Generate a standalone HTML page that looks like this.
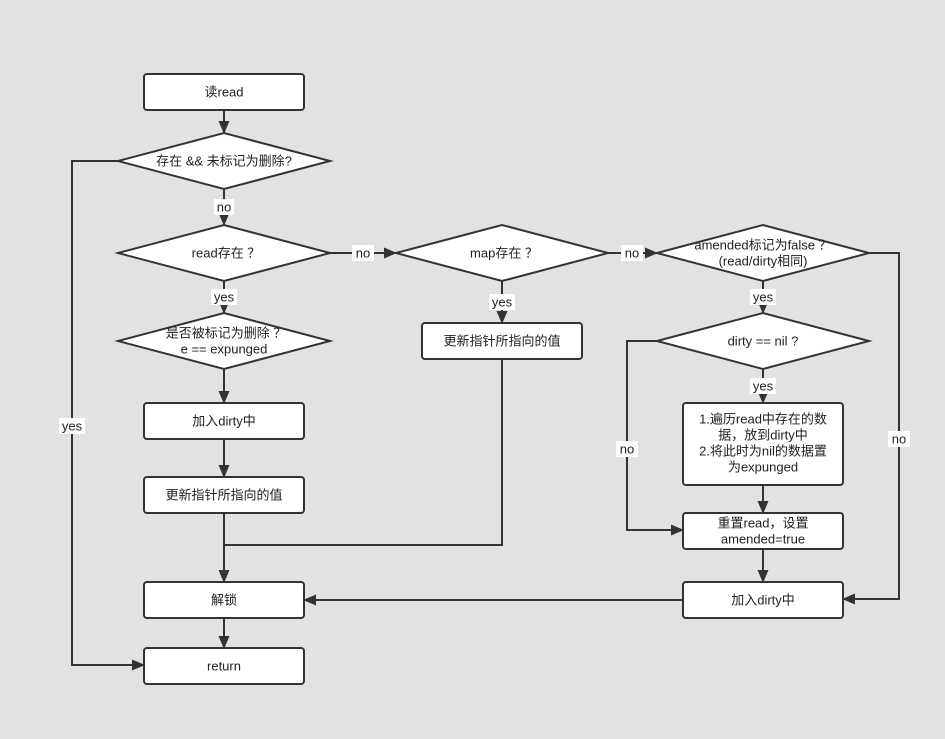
<!DOCTYPE html>
<html><head><meta charset="utf-8"><style>
html,body{margin:0;padding:0;background:#e2e2e2;}
svg{display:block;}
text{font-family:"Liberation Sans","Noto Sans CJK SC",sans-serif;font-size:13px;fill:#222;text-anchor:middle;dominant-baseline:central;}
</style></head><body>
<svg width="945" height="739" viewBox="0 0 945 739" xmlns="http://www.w3.org/2000/svg">
<defs><marker id="a" markerWidth="13" markerHeight="11" refX="12" refY="5.5" orient="auto" markerUnits="userSpaceOnUse"><path d="M0,0 L13,5.5 L0,11 z" fill="#333"/></marker></defs>
<rect width="945" height="739" fill="#e2e2e2"/>
<g stroke="#333" stroke-width="2" fill="none">
<path d="M224,110 V133" marker-end="url(#a)"/>
<path d="M224,189 V225" marker-end="url(#a)"/>
<path d="M224,281 V313" marker-end="url(#a)"/>
<path d="M224,369 V403" marker-end="url(#a)"/>
<path d="M224,439 V477" marker-end="url(#a)"/>
<path d="M224,513 V582" marker-end="url(#a)"/>
<path d="M224,618 V648" marker-end="url(#a)"/>
<path d="M118,161 H72 V665 H144" marker-end="url(#a)"/>
<path d="M330,253 H396" marker-end="url(#a)"/>
<path d="M608,253 H657" marker-end="url(#a)"/>
<path d="M502,281 V323" marker-end="url(#a)"/>
<path d="M502,359 V545 H224"/>
<path d="M869,253 H899 V599 H843" marker-end="url(#a)"/>
<path d="M763,281 V313" marker-end="url(#a)"/>
<path d="M763,369 V403" marker-end="url(#a)"/>
<path d="M763,485 V513" marker-end="url(#a)"/>
<path d="M763,549 V582" marker-end="url(#a)"/>
<path d="M657,341 H627 V530 H683" marker-end="url(#a)"/>
<path d="M683,600 H304" marker-end="url(#a)"/>
</g>
<g stroke="#333" stroke-width="2" fill="#fff">
<rect x="144" y="74" width="160" height="36" rx="3"/>
<polygon points="118,161 224,133 330,161 224,189"/>
<polygon points="118,253 224,225 330,253 224,281"/>
<polygon points="118,341 224,313 330,341 224,369"/>
<rect x="144" y="403" width="160" height="36" rx="3"/>
<rect x="144" y="477" width="160" height="36" rx="3"/>
<rect x="144" y="582" width="160" height="36" rx="3"/>
<rect x="144" y="648" width="160" height="36" rx="3"/>
<polygon points="396,253 502,225 608,253 502,281"/>
<rect x="422" y="323" width="160" height="36" rx="3"/>
<polygon points="657,253 763,225 869,253 763,281"/>
<polygon points="657,341 763,313 869,341 763,369"/>
<rect x="683" y="403" width="160" height="82" rx="3"/>
<rect x="683" y="513" width="160" height="36" rx="3"/>
<rect x="683" y="582" width="160" height="36" rx="3"/>
</g>
<g fill="#fff">
<rect x="214" y="199" width="20" height="16"/>
<rect x="211" y="289" width="26" height="16"/>
<rect x="352" y="245" width="22" height="16"/>
<rect x="621" y="245" width="22" height="16"/>
<rect x="489" y="294" width="26" height="16"/>
<rect x="750" y="289" width="26" height="16"/>
<rect x="750" y="378" width="26" height="16"/>
<rect x="59" y="418" width="26" height="16"/>
<rect x="616" y="441" width="22" height="16"/>
<rect x="888" y="431" width="22" height="16"/>
</g>
<text x="224" y="92">读read</text>
<text x="224" y="161">存在 &amp;&amp; 未标记为删除?</text>
<text x="224" y="207">no</text>
<text x="226" y="253">read存在 ？</text>
<text x="224" y="297">yes</text>
<text x="226" y="333">是否被标记为删除 ？</text>
<text x="224" y="349">e == expunged</text>
<text x="224" y="421">加入dirty中</text>
<text x="224" y="495">更新指针所指向的值</text>
<text x="224" y="600">解锁</text>
<text x="224" y="666">return</text>
<text x="72" y="426">yes</text>
<text x="363" y="253">no</text>
<text x="504" y="253">map存在 ？</text>
<text x="502" y="302">yes</text>
<text x="502" y="341">更新指针所指向的值</text>
<text x="632" y="253">no</text>
<text x="763" y="245">amended标记为false ？</text>
<text x="763" y="261">(read/dirty相同)</text>
<text x="763" y="297">yes</text>
<text x="763" y="341">dirty == nil ?</text>
<text x="763" y="386">yes</text>
<text x="763" y="419">1.遍历read中存在的数</text>
<text x="763" y="435">据，放到dirty中</text>
<text x="763" y="451">2.将此时为nil的数据置</text>
<text x="763" y="467">为expunged</text>
<text x="763" y="523">重置read，设置</text>
<text x="763" y="539">amended=true</text>
<text x="763" y="600">加入dirty中</text>
<text x="627" y="449">no</text>
<text x="899" y="439">no</text>
</svg>
</body></html>
